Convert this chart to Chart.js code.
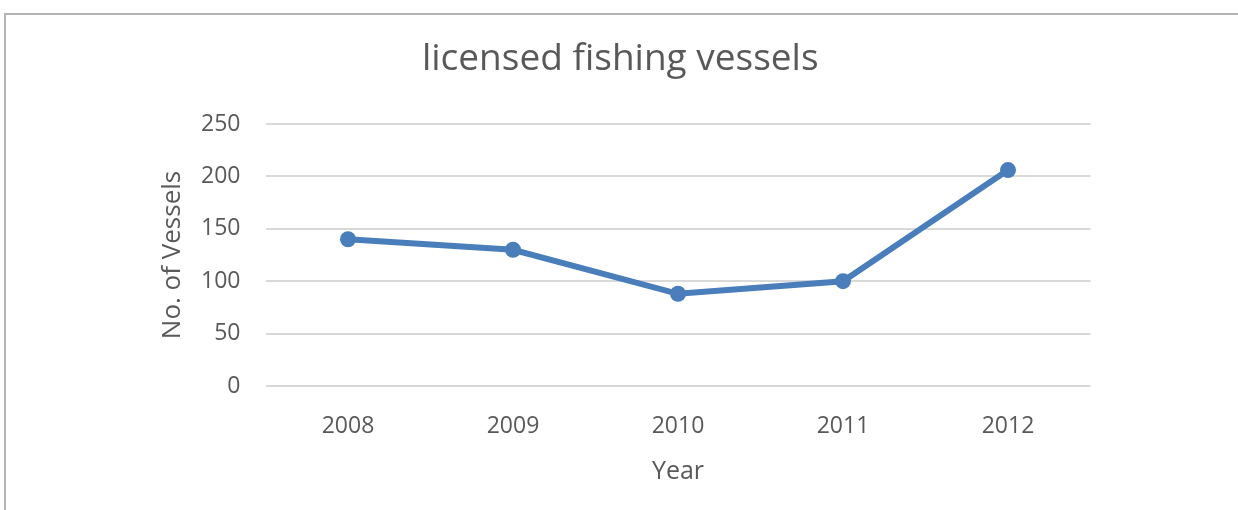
<!DOCTYPE html>
<html>
<head>
<meta charset="utf-8">
<script src="https://cdn.jsdelivr.net/npm/chart.js@4/dist/chart.umd.min.js"></script>
<style>
  html, body { margin: 0; padding: 0; background: #fff; }
  #wrap { position: relative; width: 1238px; height: 510px; overflow: hidden; }
  #frame {
    position: absolute; left: 4px; top: 13px; width: 1300px; height: 600px;
    border-left: 2px solid #b4b4b4; border-top: 2px solid #b4b4b4;
  }
  #chart { position: absolute; left: 0; top: 0; }
</style>
</head>
<body>
<div id="wrap">
  <div id="frame"></div>
  <canvas id="chart" width="1238" height="510"></canvas>
</div>
<script>
const years = ["2008", "2009", "2010", "2011", "2012"];
const vessels = [140, 130, 88, 100, 206];
const yMin = 0, yMax = 250, yStep = 50;

const FONT = "'Open Sans', 'Noto Sans', sans-serif";
const TEXT = "#595959";
const BLUE = "#4a7ebb";

new Chart(document.getElementById("chart").getContext("2d"), {
  type: "line",
  data: {
    labels: years,
    datasets: [{
      label: "Vessels",
      data: vessels,
      borderColor: BLUE,
      backgroundColor: BLUE,
      borderWidth: 6,
      pointRadius: 8,
      pointBorderWidth: 0,
      tension: 0,
    }],
  },
  options: {
    responsive: false,
    animation: false,
    layout: { padding: { left: 150, right: 147.5, top: 0, bottom: 0 } },
    plugins: {
      legend: { display: false },
      tooltip: { enabled: false },
      title: {
        display: true,
        text: "licensed fishing vessels",
        color: TEXT,
        font: { family: FONT, size: 37, weight: "normal" },
        padding: { top: 37, bottom: 42.6 },
      },
    },
    scales: {
      x: {
        offset: true,
        grid: { display: false, drawTicks: false },
        border: { display: false },
        ticks: { color: TEXT, font: { family: FONT, size: 23 }, padding: 27 },
        title: {
          display: true, text: "Year", color: TEXT,
          font: { family: FONT, size: 25 }, padding: { top: 0, bottom: 23 },
        },
        afterFit: s => { s.height = 124; },
      },
      y: {
        min: yMin, max: yMax,
        grid: { color: "#d9d9d9", lineWidth: 2, drawTicks: false },
        border: { display: false },
        ticks: { stepSize: yStep, color: TEXT, font: { family: FONT, size: 23 }, padding: 25 },
        title: {
          display: true, text: "No. of Vessels", color: TEXT,
          font: { family: FONT, size: 26 }, padding: { top: 7.4, bottom: 0 },
        },
        afterFit: s => { s.width = 115.5; },
      },
    },
  },
});
</script>
</body>
</html>
